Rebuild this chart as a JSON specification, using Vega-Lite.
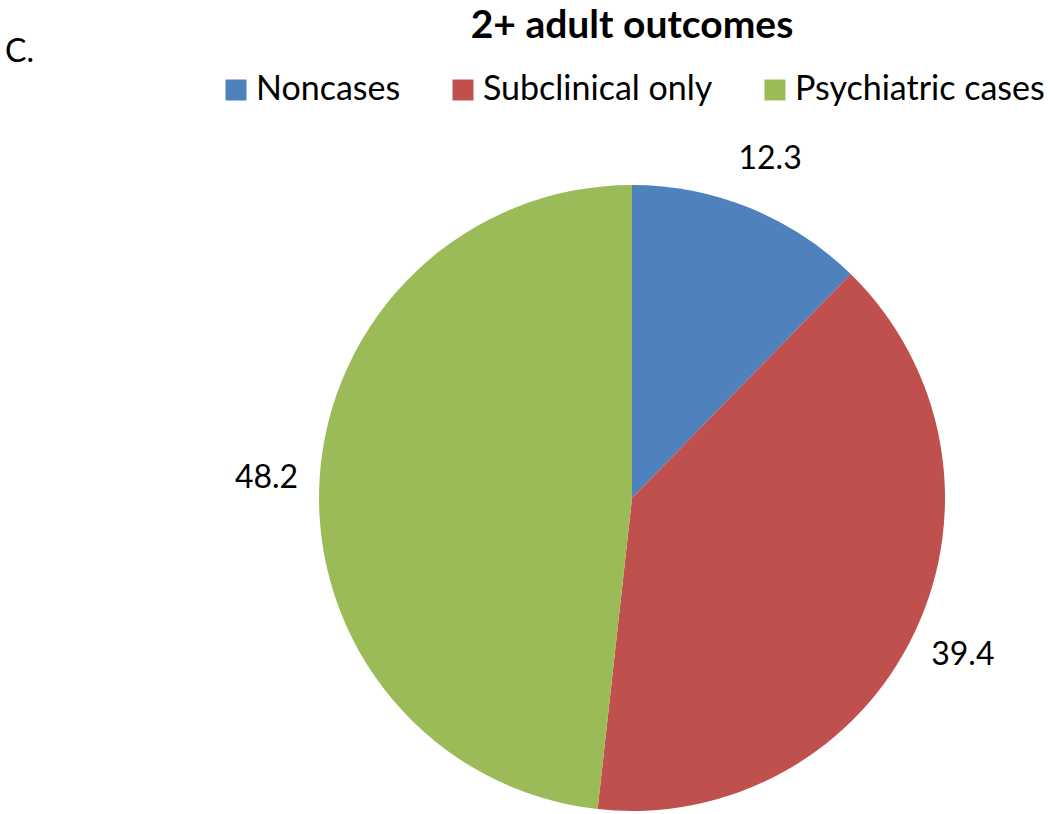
{
  "$schema": "https://vega.github.io/schema/vega-lite/v6.json",
  "autosize": "none",
  "width": 626,
  "height": 626,
  "padding": {"left": 319, "top": 185, "right": 105, "bottom": 3},
  "background": "white",
  "title": {
    "text": "C.",
    "anchor": "start",
    "frame": "group",
    "dx": -314,
    "offset": -62,
    "font": "Lato",
    "fontSize": 32,
    "fontWeight": "normal",
    "color": "black"
  },
  "data": {
    "values": [
      {"group": "Noncases", "value": 12.3, "idx": 1},
      {"group": "Subclinical only", "value": 39.4, "idx": 2},
      {"group": "Psychiatric cases", "value": 48.2, "idx": 3}
    ]
  },
  "encoding": {
    "theta": {"field": "value", "type": "quantitative", "stack": true},
    "order": {"field": "idx", "type": "quantitative"}
  },
  "layer": [
    {
      "mark": {"type": "arc", "stroke": null},
      "encoding": {
        "color": {
          "field": "group",
          "type": "nominal",
          "scale": {
            "domain": ["Noncases", "Subclinical only", "Psychiatric cases"],
            "range": ["#4F81BD", "#C0504D", "#9BBB59"]
          },
          "legend": {
            "title": "2+ adult outcomes",
            "orient": "none",
            "legendX": -100,
            "legendY": -178,
            "direction": "horizontal",
            "columns": 3,
            "titleFont": "Lato",
            "titleFontSize": 39,
            "titleFontWeight": "bold",
            "titleColor": "black",
            "titleAnchor": "middle",
            "titlePadding": 27,
            "titleLimit": 1000,
            "labelLimit": 500,
            "labelFont": "Lato",
            "labelFontSize": 34,
            "labelColor": "black",
            "labelOffset": 3,
            "columnPadding": 45,
            "symbolType": "square",
            "symbolSize": 440,
            "symbolStrokeWidth": 0,
            "symbolOpacity": 1
          }
        }
      }
    },
    {
      "mark": {"type": "text", "radius": 366, "font": "Lato", "fontSize": 32, "color": "black"},
      "encoding": {
        "text": {"field": "value", "type": "quantitative", "format": ".1f"}
      }
    }
  ]
}
